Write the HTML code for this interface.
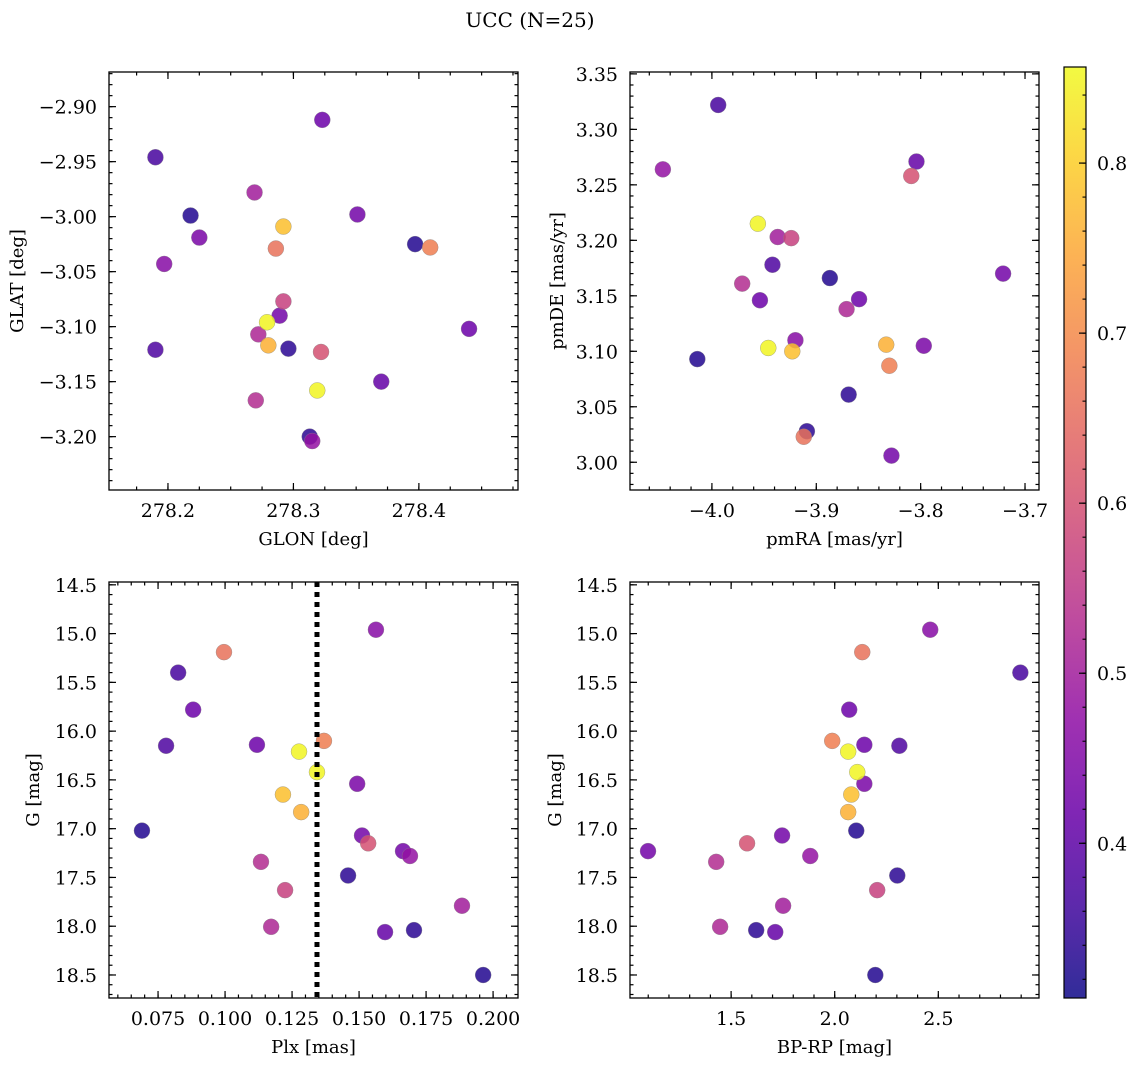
<!DOCTYPE html>
<html><head><meta charset="utf-8">
<style>
html,body{margin:0;padding:0;background:#fff;}
svg{display:block;font-family:"DejaVu Serif","Liberation Serif",serif;}
</style></head>
<body>
<svg id="fig" width="1136" height="1067" viewBox="0 0 1136 1067" xmlns="http://www.w3.org/2000/svg">
<defs><linearGradient id="cbgrad" x1="0" y1="1" x2="0" y2="0"></linearGradient></defs>
<text x="530" y="27" font-size="20" text-anchor="middle">UCC (N=25)</text>
</svg>
<script>
const glon=[278.218,278.190,278.323,278.190,278.286,278.440,278.270,278.292,278.272,278.292,278.279,278.280,278.319,278.409,278.197,278.225,278.289,278.322,278.296,278.351,278.315,278.370,278.313,278.269,278.397];
const glat=[-2.999,-2.946,-2.912,-3.121,-3.029,-3.102,-3.167,-3.077,-3.107,-3.009,-3.096,-3.117,-3.158,-3.028,-3.043,-3.019,-3.090,-3.123,-3.120,-2.998,-3.204,-3.150,-3.200,-2.978,-3.025];
const pmra=[-4.014,-3.994,-3.954,-3.942,-3.912,-3.859,-3.971,-3.924,-3.871,-3.923,-3.946,-3.833,-3.956,-3.830,-3.920,-3.797,-3.828,-3.809,-3.869,-3.721,-4.047,-3.804,-3.909,-3.937,-3.887];
const pmde=[3.093,3.322,3.146,3.178,3.023,3.147,3.161,3.202,3.138,3.100,3.103,3.106,3.215,3.087,3.110,3.105,3.006,3.258,3.061,3.170,3.264,3.271,3.028,3.203,3.166];
const plx=[0.069,0.0825,0.0881,0.078,0.0996,0.1119,0.1134,0.1224,0.1172,0.1216,0.1276,0.1284,0.1343,0.1369,0.1563,0.1493,0.1511,0.1534,0.1459,0.1664,0.169,0.1597,0.1705,0.1884,0.1963];
const gmag=[17.02,15.40,15.78,16.15,15.19,16.14,17.34,17.63,18.006,16.65,16.21,16.83,16.42,16.10,14.96,16.54,17.07,17.15,17.48,17.23,17.28,18.06,18.04,17.79,18.50];
const bprp=[2.104,2.896,2.070,2.312,2.133,2.143,1.428,2.205,1.447,2.080,2.065,2.065,2.109,1.988,2.461,2.143,1.746,1.577,2.302,1.099,1.882,1.713,1.621,1.751,2.196];
const prob=[0.33,0.37,0.42,0.38,0.66,0.42,0.53,0.57,0.52,0.78,0.85,0.76,0.85,0.68,0.46,0.44,0.43,0.60,0.34,0.43,0.48,0.41,0.34,0.50,0.33];
const plxLine=0.1343;
const cbTicks=[0.4,0.5,0.6,0.7,0.8];

const NS="http://www.w3.org/2000/svg";
const svg=document.getElementById('fig');
const vmin=0.309,vmax=0.8565;
const plasma=["#0d0887","#41049d","#6a00a8","#8f0da4","#b12a90","#cc4778","#e16462","#f2844b","#fca636","#fcce25","#f0f921"];
function hex(h){return [parseInt(h.substr(1,2),16),parseInt(h.substr(3,2),16),parseInt(h.substr(5,2),16)];}
function cmap(t){t=Math.max(0,Math.min(1,t));const f=t*10,i=Math.min(9,Math.floor(f)),r=f-i;const a=hex(plasma[i]),b=hex(plasma[i+1]);
return 'rgb('+a.map((v,k)=>Math.round(v+(b[k]-v)*r)).join(',')+')';}
function el(tag,attrs,parent){const e=document.createElementNS(NS,tag);for(const k in attrs)e.setAttribute(k,attrs[k]);(parent||svg).appendChild(e);return e;}
function fmt(v,d){const s=Math.abs(v).toFixed(d);return (v<-1e-9?'\u2212':'')+s;}

function panel(name,box,xr,yr,xMaj,xMin,yMaj,yMin,xd,yd,xs,ys,xlab,ylab,ylabX,noMinus){
  const [L,T,R,B]=box;
  const sx=v=>L+(v-xr[0])/(xr[1]-xr[0])*(R-L);
  const sy=v=>T+(yr[1]-v)/(yr[1]-yr[0])*(B-T);
  const g=el('g',{});
  
  
  const ticks=el('g',{stroke:'#000','stroke-width':1.2},g);
  
  
  function rng(a,b,s){const o=[];const st=Math.ceil(a/s-1e-6);for(let k=st;k*s<=b+1e-9;k++)o.push(k*s);return o;}
  rng(xr[0],xr[1],xMin).forEach(v=>{const x=sx(v);el('line',{x1:x,x2:x,y1:B,y2:B-3.5},ticks);el('line',{x1:x,x2:x,y1:T,y2:T+3.5},ticks);});
  rng(yr[0],yr[1],yMin).forEach(v=>{const y=sy(v);el('line',{x1:L,x2:L+3.5,y1:y,y2:y},ticks);el('line',{x1:R,x2:R-3.5,y1:y,y2:y},ticks);});
  const xl=rng(xr[0],xr[1],xMaj), yl=rng(yr[0],yr[1],yMaj);
  xl.forEach(v=>{const x=sx(v);el('line',{x1:x,x2:x,y1:B,y2:B-7},ticks);el('line',{x1:x,x2:x,y1:T,y2:T+7},ticks);
    const t=el('text',{x:x,y:B+27,'font-size':19,'text-anchor':'middle'},g);t.textContent=fmt(v,xd);
    
    });
  yl.forEach(v=>{const y=sy(v);el('line',{x1:L,x2:L+7,y1:y,y2:y},ticks);el('line',{x1:R,x2:R-7,y1:y,y2:y},ticks);
    const t=el('text',{x:L-12,y:y+7,'font-size':19,'text-anchor':'end'},g);let s=fmt(v,yd);if(noMinus)s=s.replace('\u2212','');t.textContent=s;
    
    });
  const pts=el('g',{},g);
  
  
  const order=prob.map((p,i)=>i).sort((a,b)=>prob[a]-prob[b]);
  order.forEach(i=>{const c=el('circle',{cx:sx(xs[i]),cy:sy(ys[i]),r:8,fill:cmap((prob[i]-vmin)/(vmax-vmin)),'fill-opacity':0.85,stroke:'#888','stroke-width':0.5,'stroke-opacity':0.7},pts);
    
    });
  const fr=el('rect',{x:L,y:T,width:R-L,height:B-T,fill:'none',stroke:'#000','stroke-width':1.3},g);
  
  
  const a=el('text',{x:(L+R)/2,y:B+55,'font-size':18,'text-anchor':'middle'},g);a.textContent=xlab;
  
  
  const b=el('text',{x:ylabX,y:(T+B)/2,'font-size':18,'text-anchor':'middle',transform:'rotate(-90 '+ylabX+' '+(T+B)/2+')'},g);b.textContent=ylab;
  
  
  return {sx,sy,g};
}
panel('glon-glat-panel',[109,72,518,490],[278.153,278.479],[-3.2485,-2.8685],0.1,0.025,0.05,0.01,1,2,glon,glat,'GLON [deg]','GLAT [deg]',23,false);
panel('pm-panel',[630,72,1039,490],[-4.0785,-3.6866],[2.975,3.3517],0.1,0.02,0.05,0.01,1,2,pmra,pmde,'pmRA [mas/yr]','pmDE [mas/yr]',563,false);
const gneg=gmag.map(v=>-v);
const bl=panel('plx-g-panel',[109,582,518,998],[0.0567,0.2093],[-18.736,-14.471],0.025,0.005,0.5,0.1,3,1,plx,gneg,'Plx [mas]','G [mag]',39,true);
const br=panel('color-g-panel',[630,582,1039,998],[1.012,2.986],[-18.736,-14.471],0.5,0.1,0.5,0.1,1,1,bprp,gneg,'BP-RP [mag]','G [mag]',561,true);
const ln=el('line',{x1:bl.sx(plxLine),x2:bl.sx(plxLine),y1:582,y2:998,stroke:'#000','stroke-width':5,'stroke-dasharray':'5 5'});



const grad=document.getElementById('cbgrad');
for(let k=0;k<=20;k++){el('stop',{offset:(k/20),'stop-color':cmap(k/20)},grad);}
const cbL=1064,cbR=1086,cbT=67,cbB=998;
const cby=v=>cbB-(v-vmin)/(vmax-vmin)*(cbB-cbT);
const cb=el('rect',{x:cbL,y:cbT,width:cbR-cbL,height:cbB-cbT,fill:'url(#cbgrad)','fill-opacity':0.85,stroke:'#000','stroke-width':1.2});


for(let v=0.32;v<=vmax;v+=0.02){const y=cby(v);el('line',{x1:cbR,x2:cbR-3.5,y1:y,y2:y,stroke:'#000','stroke-width':1.1});}
cbTicks.forEach(v=>{const y=cby(v);el('line',{x1:cbR,x2:cbR-7,y1:y,y2:y,stroke:'#000','stroke-width':1.2});
  const t=el('text',{x:cbR+11,y:y+7,'font-size':19},svg);t.textContent=v.toFixed(1);
  
  });
</script>
</body></html>
